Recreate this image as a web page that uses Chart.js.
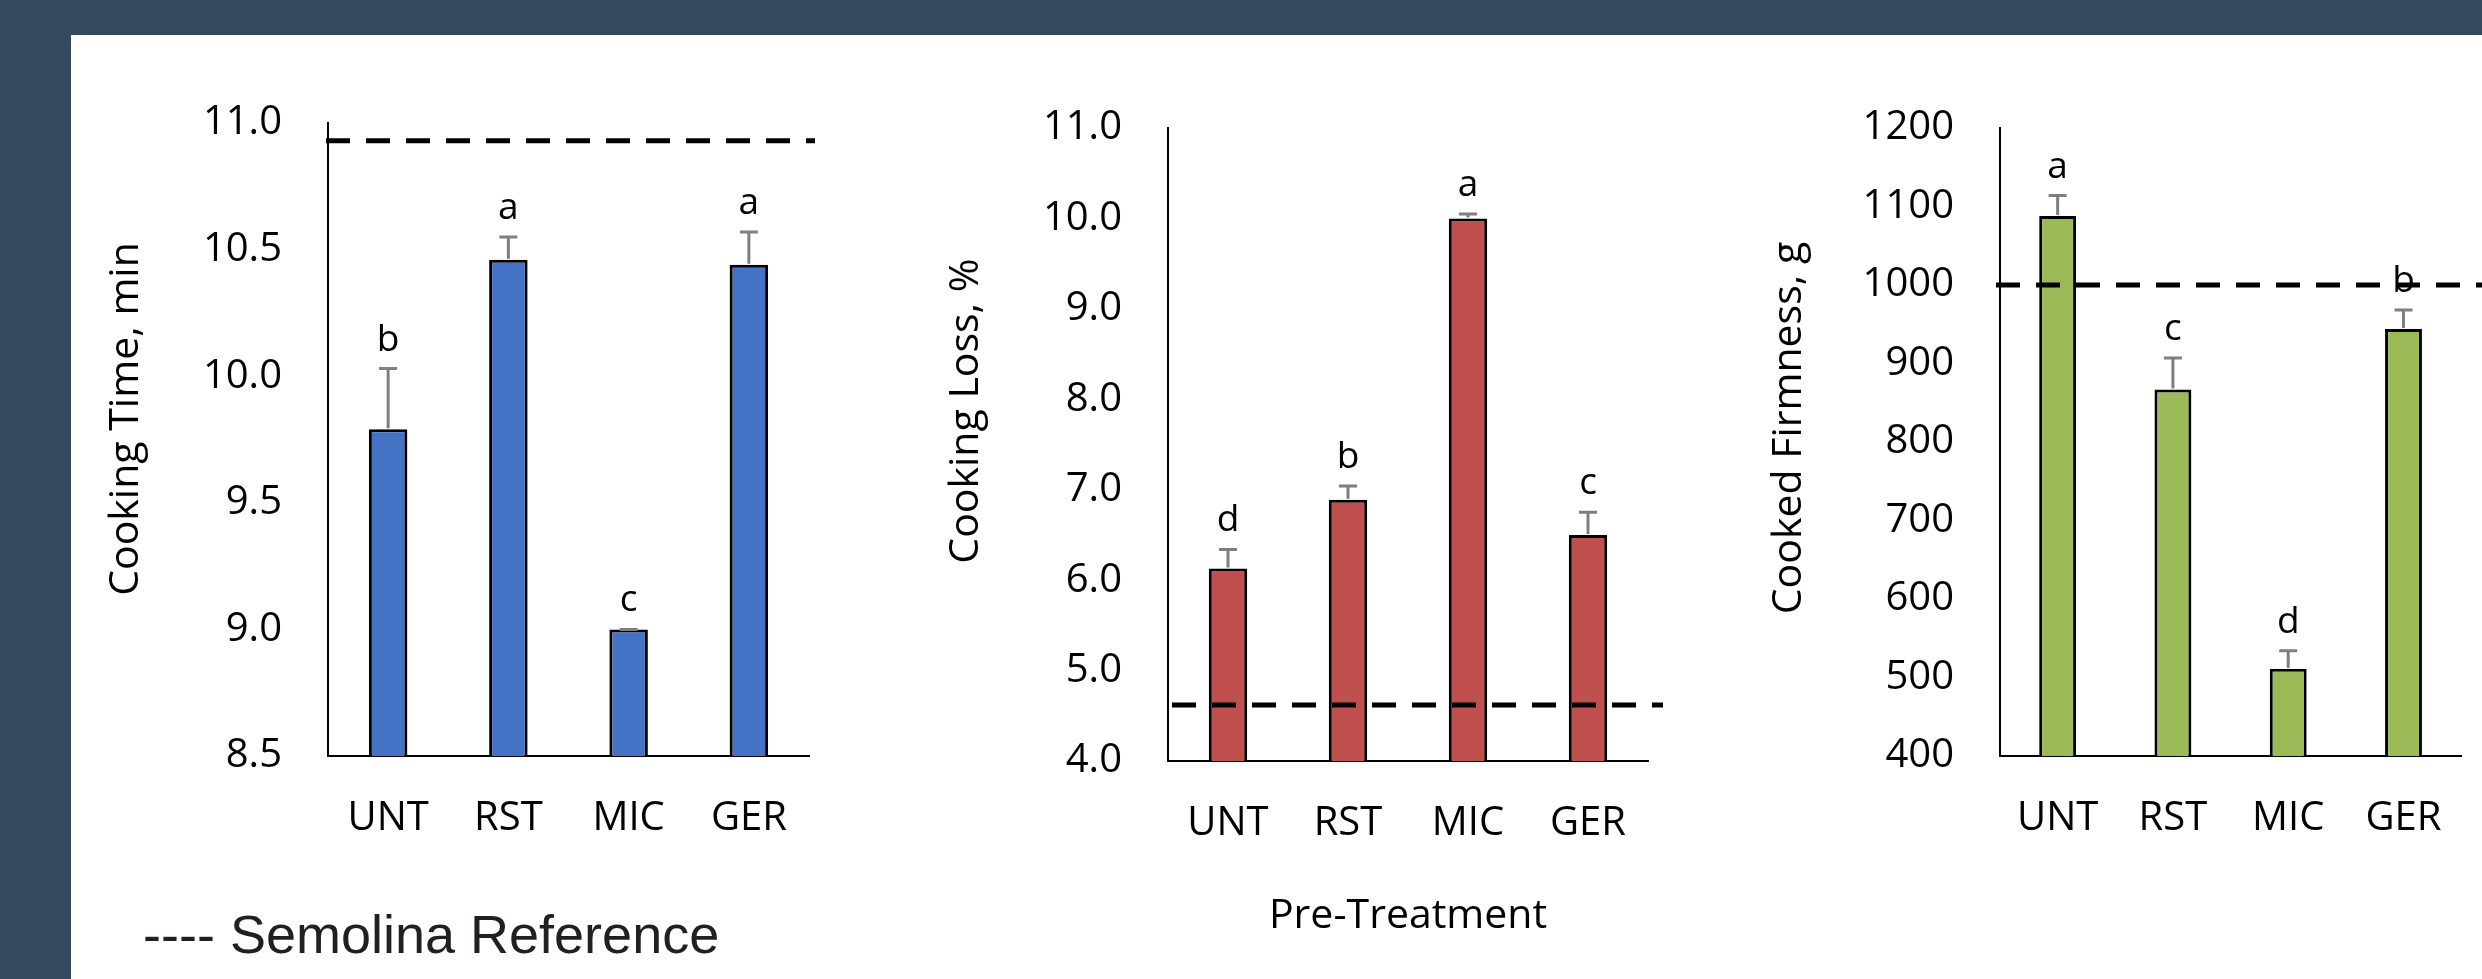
<!DOCTYPE html>
<html lang="en">
<head>
  <meta charset="UTF-8" />
  <title>Pre-Treatment Cooking Quality</title>
  <script src="https://cdn.jsdelivr.net/npm/chart.js"></script>
  <style>
    html,body{margin:0;padding:0;}
    body{width:2482px;height:979px;background:#34495e;position:relative;overflow:hidden;}
    .panel{position:absolute;left:71px;top:35px;right:0;bottom:0;background:#fff;}
    canvas{position:absolute;}
    #c1{left:80px;top:40px;}
    #c2{left:860px;top:40px;}
    #c3{left:1690px;top:40px;}
    .legend{position:absolute;left:143px;top:907px;font:54px "Liberation Sans",Arial,sans-serif;
            line-height:1;color:#231f20;white-space:nowrap;}
  </style>
</head>
<body>
  <div class="panel"></div>
  <canvas id="c1" width="780" height="840"></canvas>
  <canvas id="c2" width="820" height="920"></canvas>
  <canvas id="c3" width="792" height="840"></canvas>
  <div class="legend">---- Semolina Reference</div>

  <script>
    // data
    const categories = ['UNT','RST','MIC','GER'];

    const cookTime        = [9.79, 10.46, 9.00, 10.44];
    const cookTimeErr     = [0.24, 0.09, 0.00, 0.13];
    const cookTimeLetters = ['b','a','c','a'];
    const cookTimeTicks   = [8.5, 11.0, 0.5];   // min, max, step

    const cookLoss        = [6.13, 6.89, 10.00, 6.50];
    const cookLossErr     = [0.21, 0.15, 0.05, 0.25];
    const cookLossLetters = ['d','b','a','c'];
    const cookLossTicks   = [4.0, 11.0, 1.0];

    const firmness        = [1088, 867, 511, 944];
    const firmnessErr     = [26, 40, 23, 24];
    const firmnessLetters = ['a','c','d','b'];
    const firmnessTicks   = [400, 1200, 100];

    const semolinaRef     = [10.93, 4.62, 1000];

    Chart.defaults.font.family='"Open Sans", sans-serif';
    Chart.defaults.color='#000';

    // error bars, significance letters, dashed semolina line, y title
    const annotate={
      id:'annotate',
      afterDatasetsDraw(chart,args,o){
        const ctx=chart.ctx, xs=chart.scales.x, ys=chart.scales.y;
        const vals=chart.data.datasets[0].data;
        ctx.save();
        vals.forEach((v,i)=>{
          const cx=xs.getPixelForValue(i);
          const top=ys.getPixelForValue(v);
          const et=ys.getPixelForValue(v+o.err[i]);
          ctx.strokeStyle='#7f7f7f';ctx.lineWidth=3;
          ctx.beginPath();
          ctx.moveTo(cx,top-1);ctx.lineTo(cx,et);
          ctx.moveTo(cx-9,et);ctx.lineTo(cx+9,et);
          ctx.stroke();
          ctx.fillStyle='#000';ctx.font='37px "Open Sans"';
          ctx.textAlign='center';ctx.textBaseline='alphabetic';
          ctx.fillText(o.letters[i],cx,et-18);
        });
        const ry=ys.getPixelForValue(o.ref);
        const a=chart.chartArea;
        ctx.setLineDash([24,16]);ctx.lineWidth=5;ctx.strokeStyle='#000';
        ctx.beginPath();
        ctx.moveTo(a.left+o.from,ry);
        ctx.lineTo(o.to==null?chart.width:a.right+o.to,ry);
        ctx.stroke();
        ctx.setLineDash([]);
        ctx.translate(o.titleX,o.titleY);
        ctx.rotate(-Math.PI/2);
        ctx.font='41px "Open Sans"';ctx.fillStyle='#000';
        ctx.textAlign='center';ctx.textBaseline='middle';
        ctx.fillText(o.title,0,0);
        ctx.restore();
      }
    };

    function build(id,cfg){
      const [min,max,step]=cfg.ticks;
      new Chart(document.getElementById(id),{
        type:'bar',
        data:{labels:categories,datasets:[{
          data:cfg.values,
          backgroundColor:cfg.color,
          borderColor:'#000',
          borderWidth:3,
          borderSkipped:false,
          barPercentage:0.32,
          categoryPercentage:1
        }]},
        options:{
          responsive:false,
          animation:false,
          events:[],
          layout:{padding:{top:cfg.padTop,right:cfg.padRight,left:0,bottom:0}},
          plugins:{
            legend:{display:false},
            tooltip:{enabled:false},
            annotate:{err:cfg.err,letters:cfg.letters,ref:cfg.ref,from:cfg.refFrom,to:cfg.refTo,
                      title:cfg.yTitle,titleX:cfg.yTitleX,titleY:cfg.yTitleY}
          },
          scales:{
            x:{
              grid:{display:false,drawTicks:false},
              border:{display:true,color:'#000',width:2},
              ticks:{font:{size:40},padding:39,color:'#000'},
              title:{display:!!cfg.xTitle,text:cfg.xTitle||'',font:{size:41},
                     align:'center',padding:{top:0,bottom:cfg.xTitlePad||0}},
              afterFit(s){s.height=cfg.xHeight;}
            },
            y:{
              min,max,
              grid:{display:false,drawTicks:false},
              border:{display:true,color:'#000',width:2},
              ticks:{stepSize:step,font:{size:40},padding:46,color:'#000',
                     callback:v=>cfg.fmt(v)},
              afterFit(s){s.width=cfg.yWidth;}
            }
          }
        },
        plugins:[annotate]
      });
    }

    build('c1',{
      values:cookTime,err:cookTimeErr,letters:cookTimeLetters,ticks:cookTimeTicks,
      ref:semolinaRef[0],refFrom:-2,refTo:6,color:'#4472c4',
      yTitle:'Cooking Time, min',fmt:v=>v.toFixed(1),yTitleX:46,yTitleY:379,
      padTop:83,padRight:51,yWidth:248,xHeight:124
    });

    build('c2',{
      values:cookLoss,err:cookLossErr,letters:cookLossLetters,ticks:cookLossTicks,
      ref:semolinaRef[1],refFrom:4,refTo:15,color:'#c0504d',
      yTitle:'Cooking Loss, %',fmt:v=>v.toFixed(1),yTitleX:106,yTitleY:371,
      xTitle:'Pre-Treatment',xTitlePad:19,
      padTop:88,padRight:32,yWidth:308,xHeight:199
    });

    build('c3',{
      values:firmness,err:firmnessErr,letters:firmnessLetters,ticks:firmnessTicks,
      ref:semolinaRef[2],refFrom:-4,refTo:null,color:'#9bbb59',
      yTitle:'Cooked Firmness, g',fmt:v=>String(v),yTitleX:99,yTitleY:388,
      padTop:88,padRight:12,yWidth:310,xHeight:124
    });
  </script>
</body>
</html>
